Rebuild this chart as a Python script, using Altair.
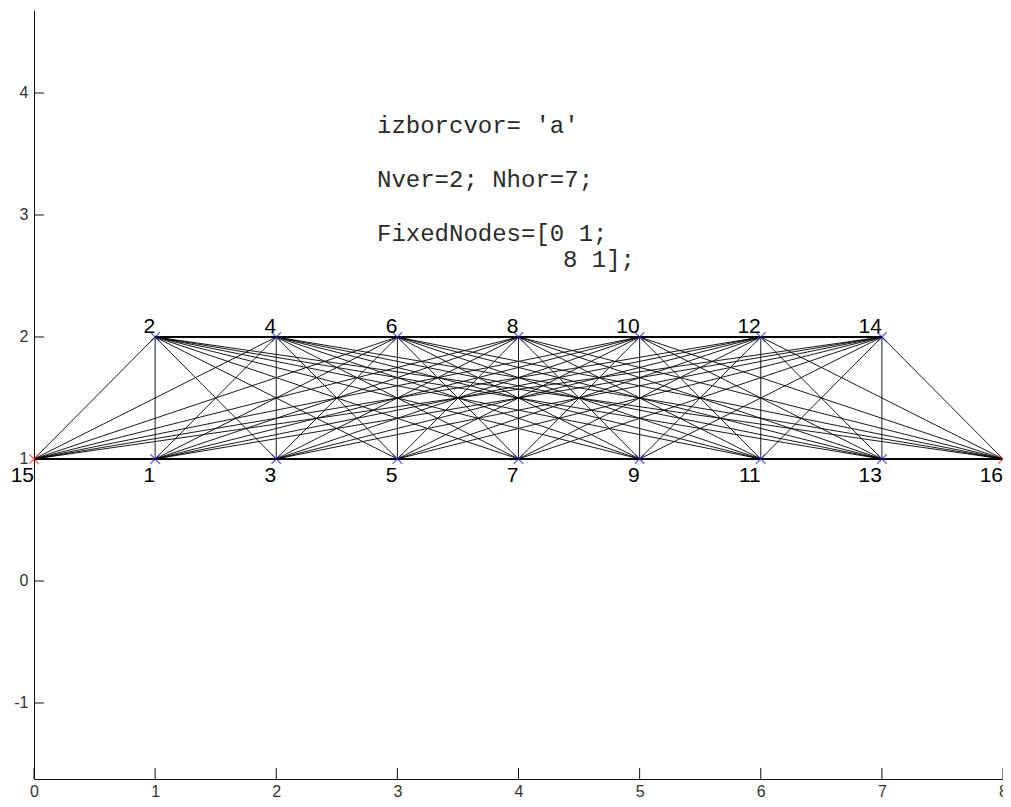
import itertools
import altair as alt
import pandas as pd

# ---- data ----
node_ids = [1, 2, 3, 4, 5, 6, 7, 8, 9, 10, 11, 12, 13, 14, 15, 16]
node_x = [1, 1, 2, 2, 3, 3, 4, 4, 5, 5, 6, 6, 7, 7, 0, 8]
node_y = [1, 2, 1, 2, 1, 2, 1, 2, 1, 2, 1, 2, 1, 2, 1, 1]
fixed_nodes = [15, 16]
x_ticks = [0, 1, 2, 3, 4, 5, 6, 7, 8]
y_ticks = [-1, 0, 1, 2, 3, 4]
x_domain = [0, 8]
y_domain = [-1.623, 4.680]
note_lines = [
    "izborcvor= 'a'",
    "Nver=2; Nhor=7;",
    "FixedNodes=[0 1;",
    "8 1];",
]

# ---- tables built from the arrays ----
nodes = pd.DataFrame({
    "id": node_ids,
    "x": node_x,
    "y": node_y,
    "label": [str(i) for i in node_ids],
    "kind": ["fixed" if i in fixed_nodes else "free" for i in node_ids],
    "pos": ["top" if yy == 2 else "bottom" for yy in node_y],
})

edge_rows = []
for a, b in itertools.combinations(range(len(node_ids)), 2):
    edge_rows.append({"x": node_x[a], "y": node_y[a], "x2": node_x[b], "y2": node_y[b]})
edges = pd.DataFrame(edge_rows)

W, H = 969, 769
PAD_TOP = 2
xs = alt.Scale(domain=x_domain, nice=False, zero=False)
ys = alt.Scale(domain=y_domain, nice=False, zero=False)

common_axis = dict(grid=False, ticks=False, title=None, domainColor="#111", domainWidth=1,
                   labelFont="Liberation Sans", labelFontSize=16, labelColor="#333",
                   labelFlush=False, labelOverlap=False, labelBound=False,
                   labelExpr="datum.value")
x_axis = alt.Axis(values=x_ticks, labelPadding=4, **common_axis)
y_axis = alt.Axis(values=y_ticks, labelPadding=6, **common_axis)

edge_layer = alt.Chart(edges).mark_rule(color="black", strokeWidth=0.9).encode(
    x=alt.X("x:Q", scale=xs, axis=x_axis),
    y=alt.Y("y:Q", scale=ys, axis=y_axis),
    x2="x2:Q",
    y2="y2:Q",
)

xtick_layer = alt.Chart(pd.DataFrame({"t": x_ticks})).mark_rule(color="#111", strokeWidth=1).encode(
    x=alt.X("t:Q", scale=xs),
    y=alt.value(H),
    y2=alt.value(H - 11),
)
ytick_layer = alt.Chart(pd.DataFrame({"t": y_ticks})).mark_rule(color="#111", strokeWidth=1).encode(
    y=alt.Y("t:Q", scale=ys),
    x=alt.value(0),
    x2=alt.value(10),
)

marker_layer = alt.Chart(nodes).mark_point(
    shape="M-1,-1L1,1M-1,1L1,-1", filled=False, size=90, strokeWidth=1.2
).encode(
    x=alt.X("x:Q", scale=xs),
    y=alt.Y("y:Q", scale=ys),
    color=alt.Color("kind:N", scale=alt.Scale(domain=["free", "fixed"], range=["#2020c0", "#ff1a1a"]),
                    legend=None),
)

top_labels = alt.Chart(nodes).transform_filter(alt.datum.pos == "top").mark_text(
    align="right", baseline="alphabetic", dy=-4, dx=0, fontSize=21, font="Liberation Sans", color="black"
).encode(x=alt.X("x:Q", scale=xs), y=alt.Y("y:Q", scale=ys), text="label:N")

bottom_labels = alt.Chart(nodes).transform_filter(alt.datum.pos == "bottom").mark_text(
    align="right", baseline="alphabetic", dy=23, dx=0, fontSize=21, font="Liberation Sans", color="black"
).encode(x=alt.X("x:Q", scale=xs), y=alt.Y("y:Q", scale=ys), text="label:N")

# pixel placement of each line of the annotation (x, baseline y) inside the plot area
note_pos = [(343, 123), (343, 177), (343, 231), (529, 257)]
note_layers = []
for line, (px, py) in zip(note_lines, note_pos):
    note_layers.append(
        alt.Chart(pd.DataFrame({"a": [0]})).mark_text(
            text=line, align="left", baseline="alphabetic", font="Liberation Mono",
            fontSize=24, color="#2a2a2a"
        ).encode(x=alt.value(px), y=alt.value(py))
    )

chart = alt.layer(
    edge_layer, xtick_layer, ytick_layer, marker_layer, top_labels, bottom_labels, *note_layers
).properties(
    width=W, height=H,
    background="white",
    autosize=alt.AutoSizeParams(type="none"),
    padding={"left": 26, "top": PAD_TOP, "right": 0, "bottom": 791 - PAD_TOP - H},
).configure_view(stroke=None, strokeWidth=0)

chart.save("out.html", embed_options={"renderer": "svg", "actions": False})
